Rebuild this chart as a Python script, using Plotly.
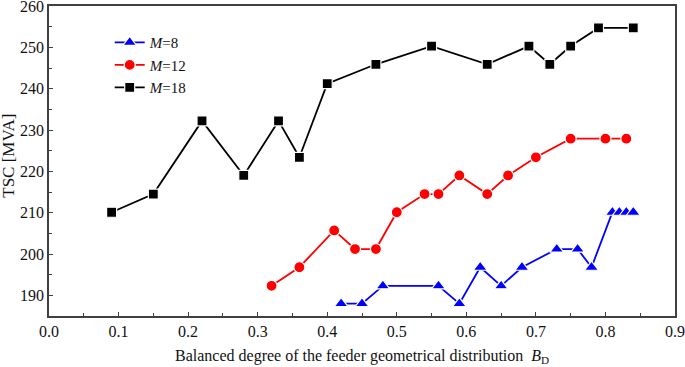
import plotly.graph_objects as go

m8_x = [0.42, 0.45, 0.48, 0.56, 0.59, 0.62, 0.65, 0.68, 0.73, 0.76, 0.78, 0.81, 0.82, 0.83, 0.84]
m8_y = [188.0, 188.0, 192.3, 192.3, 188.0, 196.8, 192.3, 196.8, 201.2, 201.2, 196.8, 210.1, 210.1, 210.1, 210.1]

m12_x = [0.32, 0.36, 0.41, 0.44, 0.47, 0.50, 0.54, 0.56, 0.59, 0.63, 0.66, 0.70, 0.75, 0.80, 0.83]
m12_y = [192.3, 196.8, 205.7, 201.2, 201.2, 210.1, 214.5, 214.5, 219.0, 214.5, 219.0, 223.4, 227.9, 227.9, 227.9]

m18_x = [0.09, 0.15, 0.22, 0.28, 0.33, 0.36, 0.40, 0.47, 0.55, 0.63, 0.69, 0.72, 0.75, 0.79, 0.84]
m18_y = [210.1, 214.5, 232.2, 219.0, 232.2, 223.4, 241.2, 245.9, 250.3, 245.9, 250.3, 245.9, 250.3, 254.7, 254.7]

series = [
    ("<i>M</i>=8", m8_x, m8_y, "#0000ff", "triangle-up", 12),
    ("<i>M</i>=12", m12_x, m12_y, "#ff0000", "circle", 11),
    ("<i>M</i>=18", m18_x, m18_y, "#000000", "square", 10),
]

x_title = "Balanced degree of the feeder geometrical distribution  <i>B</i><sub>D</sub>"
y_title = "TSC [MVA]"

FONT = "Liberation Serif, Times New Roman, serif"

fig = go.Figure()
for name, xs, ys, col, sym, sz in series:
    fig.add_trace(go.Scatter(
        x=xs, y=ys, name=name, mode="lines+markers",
        line=dict(color=col, width=1.8),
        marker=dict(symbol=sym, size=sz, color=col, line=dict(color="white", width=1.2)),
    ))

axis_common = dict(
    showline=True, linecolor="#404040", linewidth=1.5, mirror=True,
    ticks="inside", ticklen=4, tickwidth=1, tickcolor="#404040",
    showgrid=False, zeroline=False, automargin=False,
    ticklabeloverflow="allow",
    tickfont=dict(family=FONT, size=16, color="#111111"),
)

fig.update_xaxes(
    range=[0, 0.9], dtick=0.1, tick0=0, tickformat=".1f",
    minor=dict(ticks="inside", ticklen=3, dtick=0.05, tickcolor="#404040"),
    **axis_common,
)
fig.update_yaxes(
    range=[185, 260], dtick=10, tick0=190,
    minor=dict(ticks="inside", ticklen=3, dtick=5, tickcolor="#404040"),
    **axis_common,
)

fig.add_annotation(
    text=x_title, xref="paper", yref="paper", x=0.5, y=-0.13,
    xanchor="center", yanchor="middle", showarrow=False,
    font=dict(family=FONT, size=16, color="#111111"),
)
fig.add_annotation(
    text=y_title, xref="paper", yref="paper", x=-0.066, y=0.516,
    xanchor="center", yanchor="middle", showarrow=False, textangle=-90,
    font=dict(family=FONT, size=17, color="#111111"),
)

fig.update_layout(
    width=685, height=367,
    margin=dict(l=49, r=10, t=6, b=51),
    paper_bgcolor="white", plot_bgcolor="white",
    font=dict(family=FONT, color="#111111"),
    legend=dict(x=0.097, y=0.935, xanchor="left", yanchor="top",
                font=dict(family=FONT, size=15), bgcolor="rgba(0,0,0,0)",
                tracegroupgap=0, itemwidth=30),
    showlegend=True,
)

fig.write_html("out.html", config={"displayModeBar": False},
               post_script="document.body.style.margin='0px';")
